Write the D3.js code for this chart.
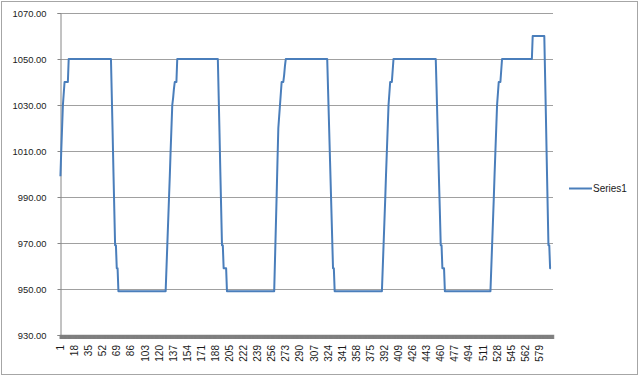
<!DOCTYPE html>
<html><head><meta charset="utf-8">
<script src="https://cdn.jsdelivr.net/npm/d3@7"></script>
<style>
html,body{margin:0;padding:0;background:#fff;}
svg{display:block;}
text{font-family:"Liberation Sans",Arial,sans-serif;fill:#1a1a1a;}
</style></head>
<body>
<svg id="chart" width="640" height="377"></svg>
<script>
// ---- data ----
const seriesName = "Series1";
const categoryCount = 595;
const xTickLabels = [1,18,35,52,69,86,103,120,137,154,171,188,205,222,239,256,273,290,307,324,341,358,375,392,409,426,443,460,477,494,511,528,545,562,579];
const yTicks = [930,950,970,990,1010,1030,1050,1070];
// series values as runs: [value, number of consecutive points]
const seriesRuns = [
  [999,1],[1010,1],[1020,1],[1030,1],[1035,1],[1040,5],[1050,52],
  [1034,1],[1018,1],[1001,1],[985,1],[969,2],[959,2],[949,58],
  [959,1],[969,1],[979,1],[989,1],[999,1],[1010,1],[1020,1],[1030,1],[1033,1],[1037,1],[1040,3],[1050,50],
  [1034,1],[1018,1],[1001,1],[985,1],[969,2],[959,4],[949,58],
  [963,1],[977,1],[991,1],[1006,1],[1020,1],[1025,1],[1030,1],[1035,1],[1040,3],[1043,1],[1047,1],[1050,51],
  [1037,1],[1024,1],[1011,1],[998,1],[985,1],[972,1],[959,2],[949,58],
  [959,1],[969,1],[979,1],[989,1],[1000,1],[1010,1],[1020,1],[1030,1],[1035,1],[1040,3],[1045,1],[1050,52],
  [1037,1],[1023,1],[1010,1],[996,1],[983,1],[969,2],[959,3],[949,56],
  [959,1],[969,1],[979,1],[989,1],[1000,1],[1010,1],[1020,1],[1030,1],[1035,1],[1040,3],[1045,1],[1050,37],
  [1060,15],[1042,1],[1024,1],[1005,1],[987,1],[969,2],[959,2]
];

// ---- build ----
const categories = d3.range(1, categoryCount + 1);
const values = [];
seriesRuns.forEach(([v, n]) => { for (let k = 0; k < n; k++) values.push(v); });
const points = values.map((v, i) => ({cat: categories[i], v}));

const svg = d3.select("#chart");
const plot = {left: 60, right: 553, top: 13, bottom: 335};

// outer border
svg.append("rect").attr("x", 1.5).attr("y", 1.5).attr("width", 636).attr("height", 373)
  .attr("fill", "#fff").attr("stroke", "#a6a6a6").attr("stroke-width", 1);

const x = d3.scaleBand().domain(categories).range([plot.left, plot.right]).padding(0);
const y = d3.scaleLinear().domain([930, 1070]).range([plot.bottom, plot.top]);
const cx = c => x(c) + x.bandwidth() / 2;

// gridlines
svg.append("g").selectAll("line").data(yTicks.filter(t => t !== 930)).join("line")
  .attr("x1", plot.left).attr("x2", plot.right)
  .attr("y1", d => Math.round(y(d)) + 0.5).attr("y2", d => Math.round(y(d)) + 0.5)
  .attr("stroke", "#a0a0a0").attr("stroke-width", 1);

// y axis
const yAxis = svg.append("g").attr("transform", `translate(${plot.left + 0.5},0)`)
  .call(d3.axisLeft(y).tickValues(yTicks).tickFormat(d3.format(".2f")).tickSize(3).tickPadding(11));
yAxis.selectAll("path,line").attr("stroke", "#868686");
yAxis.selectAll("text").style("font-size", "9.4px").attr("fill", "#1a1a1a");

// x axis tick marks (one per category)
const xTicksG = svg.append("g").attr("transform", `translate(0,${plot.bottom})`)
  .call(d3.axisBottom(x).tickValues(categories).tickSize(4).tickFormat(""));
xTicksG.select(".domain").attr("stroke", "#868686").attr("stroke-width", 1.5);
xTicksG.selectAll(".tick line").attr("stroke", "#7f7f7f").attr("stroke-width", 1.6);

// x axis labels
const xLab = svg.append("g").attr("transform", `translate(0,${plot.bottom})`)
  .call(d3.axisBottom(x).tickValues(xTickLabels).tickSize(0).tickPadding(0));
xLab.select(".domain").remove();
xLab.selectAll(".tick text")
  .style("font-size", "10px").attr("fill", "#1a1a1a")
  .attr("text-anchor", "end").attr("dy", null)
  .attr("transform", "translate(0,10) rotate(-90)")
  .attr("x", 0).attr("y", 0).attr("dominant-baseline", "central");

// series line
const line = d3.line().x(d => cx(d.cat)).y(d => y(d.v));
svg.append("path").datum(points).attr("d", line)
  .attr("fill", "none").attr("stroke", "#4a7ebb").attr("stroke-width", 2)
  .attr("stroke-linejoin", "round");

// legend
const lg = svg.append("g").attr("transform", "translate(569,188.5)");
lg.append("line").attr("x1", 0).attr("x2", 23).attr("y1", 0).attr("y2", 0)
  .attr("stroke", "#4a7ebb").attr("stroke-width", 2);
lg.append("text").attr("x", 24).attr("y", 0).attr("dy", "0.35em")
  .style("font-size", "10px").text(seriesName);
</script>
</body></html>
